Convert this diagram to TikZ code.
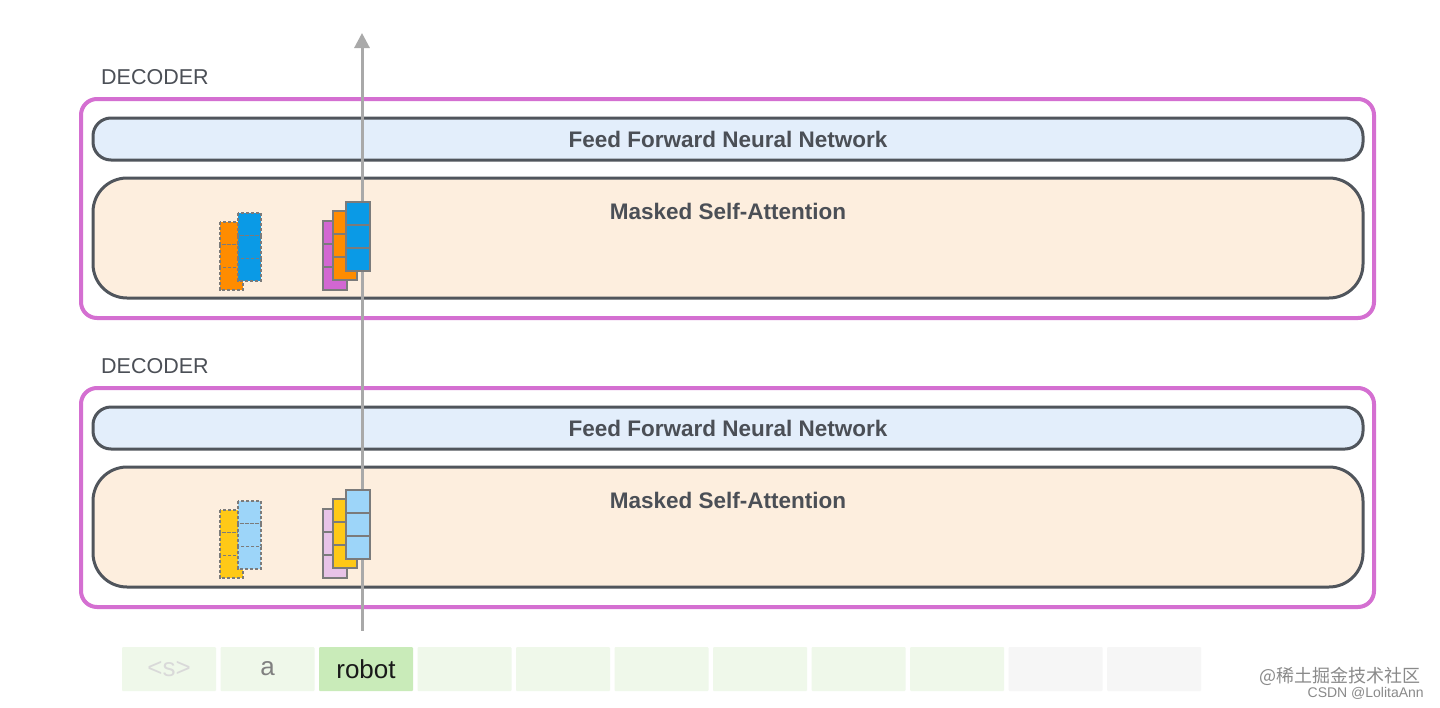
\documentclass[tikz,border=0pt]{standalone}
\usepackage{fontspec}
\setmainfont{Liberation Sans}
\newfontfamily\cjkfont{Noto Sans CJK SC}
\usepackage{xcolor}
\usetikzlibrary{arrows.meta, positioning}

\definecolor{decpink}{HTML}{D46FD1}
\definecolor{panelgray}{HTML}{50555C}
\definecolor{ffnnblue}{HTML}{E3EEFB}
\definecolor{attnpeach}{HTML}{FDEEDE}
\definecolor{labelgray}{HTML}{4B4F56}
\definecolor{arrowgray}{HTML}{A9A9A9}
\definecolor{cellgray}{HTML}{7B7B7B}
\definecolor{vorange}{HTML}{FF8C00}
\definecolor{vblue}{HTML}{0A9AE6}
\definecolor{vpurple}{HTML}{D267D2}
\definecolor{vyellow}{HTML}{FFC917}
\definecolor{vlightblue}{HTML}{9DD5F9}
\definecolor{vpink}{HTML}{E8C3E8}
\definecolor{tokgreen}{HTML}{C9EBB9}
\definecolor{tokpale}{HTML}{EFF8EA}
\definecolor{tokgray}{HTML}{F6F6F6}
\definecolor{wmgray}{HTML}{8A8A8A}

\begin{document}
\begin{tikzpicture}[x=1pt, y=-1pt,
	decoder/.style={draw=decpink, line width=4pt, rounded corners=16pt, minimum width=1293pt, minimum height=219pt},
	ffnn/.style={draw=panelgray, fill=ffnnblue, line width=3pt, rounded corners=18pt, minimum width=1270pt, minimum height=42pt},
	attn/.style={draw=panelgray, fill=attnpeach, line width=3pt, rounded corners=34pt, minimum width=1270pt, minimum height=120pt},
	title/.style={text=labelgray, font=\bfseries\fontsize{22.5}{27}\selectfont},
	declabel/.style={text=labelgray, font=\fontsize{21.5}{26}\selectfont, anchor=west, inner sep=0pt},
	token/.style={minimum width=94pt, minimum height=44pt, inner sep=0pt, rounded corners=1pt},
	toktext/.style={font=\fontsize{26}{30}\selectfont},
	dashcell/.style={draw=cellgray, line width=1.4pt, dash pattern=on 3pt off 2pt},
	solidcell/.style={draw=cellgray, line width=2.5pt}
]
	\path [use as bounding box, fill=white] (0,0) rectangle (1440,707);

	% decoder blocks
	\foreach \i/\dy in {1/0, 2/289}
	{
		\node [declabel] (label\i) at (101,77+\dy) {DECODER};
		\node [decoder] (dec\i) at (727.5,208.5+\dy) {};
		\node [ffnn, title] (ffnn\i) at (728,139+\dy) {Feed Forward Neural Network};
		\node [attn] (attn\i) at (728,238+\dy) {};
		\node [title] (attntitle\i) at (728,211+\dy) {Masked Self-Attention};
	}

	% input tokens
	\foreach \i/\col in {1/tokpale, 2/tokpale, 3/tokgreen, 4/tokpale, 5/tokpale, 6/tokpale, 7/tokpale, 8/tokpale, 9/tokpale, 10/tokgray, 11/tokgray}
	{
		\node [token, fill=\col] (tok\i) at ({169+98.5*(\i-1)},669) {};
	}
	\node [toktext, text=black!15] (start) at (tok1) {\textless s\textgreater};
	\node [toktext, text=black!50] (worda) at (tok2) {a};
	\node [toktext, text=black!90] (wordrobot) at (tok3) {robot};

	% output arrow
	\coordinate (arrowtip) at (362,33);
	\draw [-{Triangle[width=15pt,length=15pt]}, line width=3pt, arrowgray] ([yshift=16pt]tok3.north -| arrowtip) -- (arrowtip);

	% attention vectors
	\foreach \dy/\ca/\cb/\cc in {0/vorange/vblue/vpurple, 288/vyellow/vlightblue/vpink}
	{
		\foreach \x/\y/\col in {220/222/\ca, 238/213/\cb}
		{
			\foreach \k in {0,1,2}
				\draw [dashcell, fill=\col] (\x,\y+\dy+22.7*\k) rectangle ++(23,22.7);
		}
		\foreach \x/\y/\col in {323/221/\cc, 333/211/\ca, 346/202/\cb}
		{
			\foreach \k in {0,1,2}
				\draw [solidcell, fill=\col] (\x,\y+\dy+23*\k) rectangle ++(24,23);
		}
	}

	% watermark
	\node [anchor=east, text=wmgray, font=\cjkfont\fontsize{18}{20}\selectfont, inner sep=0pt] (wmtop) at (1421,676) {@稀土掘金技术社区};
	\node [anchor=east, text=wmgray, font=\fontsize{14}{16}\selectfont, inner sep=0pt] (wmbottom) at (1424,693) {CSDN @LolitaAnn};
\end{tikzpicture}
\end{document}
